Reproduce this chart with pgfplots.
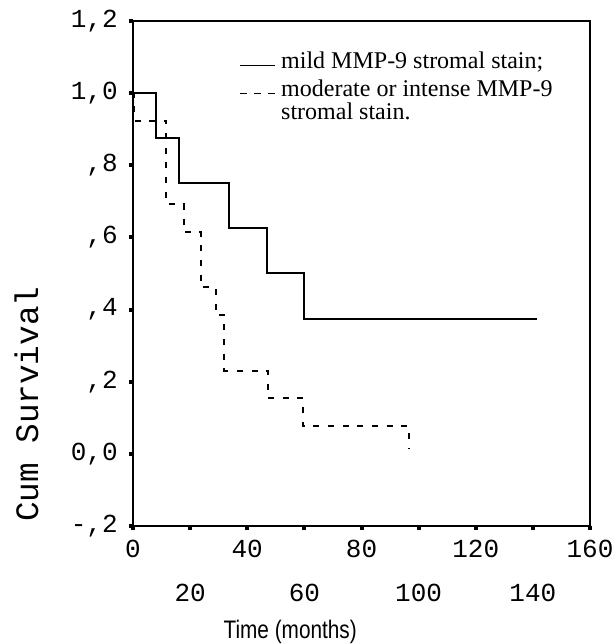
\documentclass[border=0pt]{standalone}
\usepackage{fontspec}
\usepackage{pgfplots}
\pgfplotsset{compat=1.18}
\setmainfont{Liberation Serif}
\newfontfamily\mono{Liberation Mono}
\newfontfamily\narrow[FakeStretch=0.82]{Liberation Sans}

\begin{document}
\begin{tikzpicture}
\begin{axis}[
    scale only axis,
    width=342.75pt,
    height=378.75pt,
    xmin=0, xmax=160,
    ymin=-0.2, ymax=1.2,
    clip=false,
    axis line style={line width=1.1pt},
    xtick={0,40,80,120,160},
    xticklabels={0,40,80,120,160},
    ytick={-0.2,0,0.2,0.4,0.6,0.8,1.0,1.2},
    yticklabels={{-,2},{0,0},{,2},{,4},{,6},{,8},{1,0},{1,2}},
    extra x ticks={20,60,100,140},
    extra x tick labels={20,60,100,140},
    extra x tick style={xticklabel style={yshift=-33pt}},
    xtick pos=bottom, ytick pos=left,
    tick align=outside,
    major tick length=3pt,
    tick style={line width=3pt, black},
    ticklabel style={font=\mono\fontsize{19.5}{21}\selectfont},
    yticklabel style={xshift=-5pt},
    xticklabel style={yshift=-4.2pt},
    xlabel={Time (months)},
    xlabel style={font=\narrow\fontsize{19}{21}\selectfont,
        at={(axis description cs:0.344,-0.21)}, anchor=center},
    ylabel={Cum Survival},
    ylabel style={font=\mono\fontsize{24.5}{26}\selectfont,
        at={(axis description cs:-0.233,0.241)}, anchor=center},
]
% mild MMP-9 stromal stain
\addplot[const plot, line width=1.5pt, black] coordinates {
  (0,1.0) (8,0.875) (16,0.75) (33.5,0.625) (47,0.5) (60,0.375) (141.5,0.375)
};
% moderate or intense MMP-9 stromal stain
\addplot[const plot, line width=1.5pt, black, dash pattern=on 4.5pt off 6.5pt] coordinates {
  (0,1.0) (0.5,0.923) (11.7,0.692) (17.7,0.615) (23.7,0.462) (29,0.385)
  (32,0.231) (47.2,0.154) (59.6,0.077) (96.6,0.015)
};

% legend
\draw[line width=0.8pt] (axis cs:37.6,1.076) -- (axis cs:49.7,1.076);
\node[anchor=mid west, inner sep=0pt, font=\fontsize{18}{20}\selectfont]
  at (axis cs:51.8,1.076) {mild MMP-9 stromal stain;};
\draw[line width=0.8pt, dash pattern=on 5pt off 5.5pt] (axis cs:37.6,1.0) -- (axis cs:49.7,1.0);
\node[anchor=mid west, inner sep=0pt, font=\fontsize{18}{20}\selectfont]
  at (axis cs:51.8,1.0) {moderate or intense MMP-9};
\node[anchor=mid west, inner sep=0pt, font=\fontsize{18}{20}\selectfont]
  at (axis cs:51.8,0.935) {stromal stain.};
\end{axis}
\pgfresetboundingbox
\path[use as bounding box] ([shift={(-99.75pt,-88.5pt)}]current axis.south west)
  rectangle ([shift={(17.25pt,15.75pt)}]current axis.north east);
\end{tikzpicture}
\end{document}
